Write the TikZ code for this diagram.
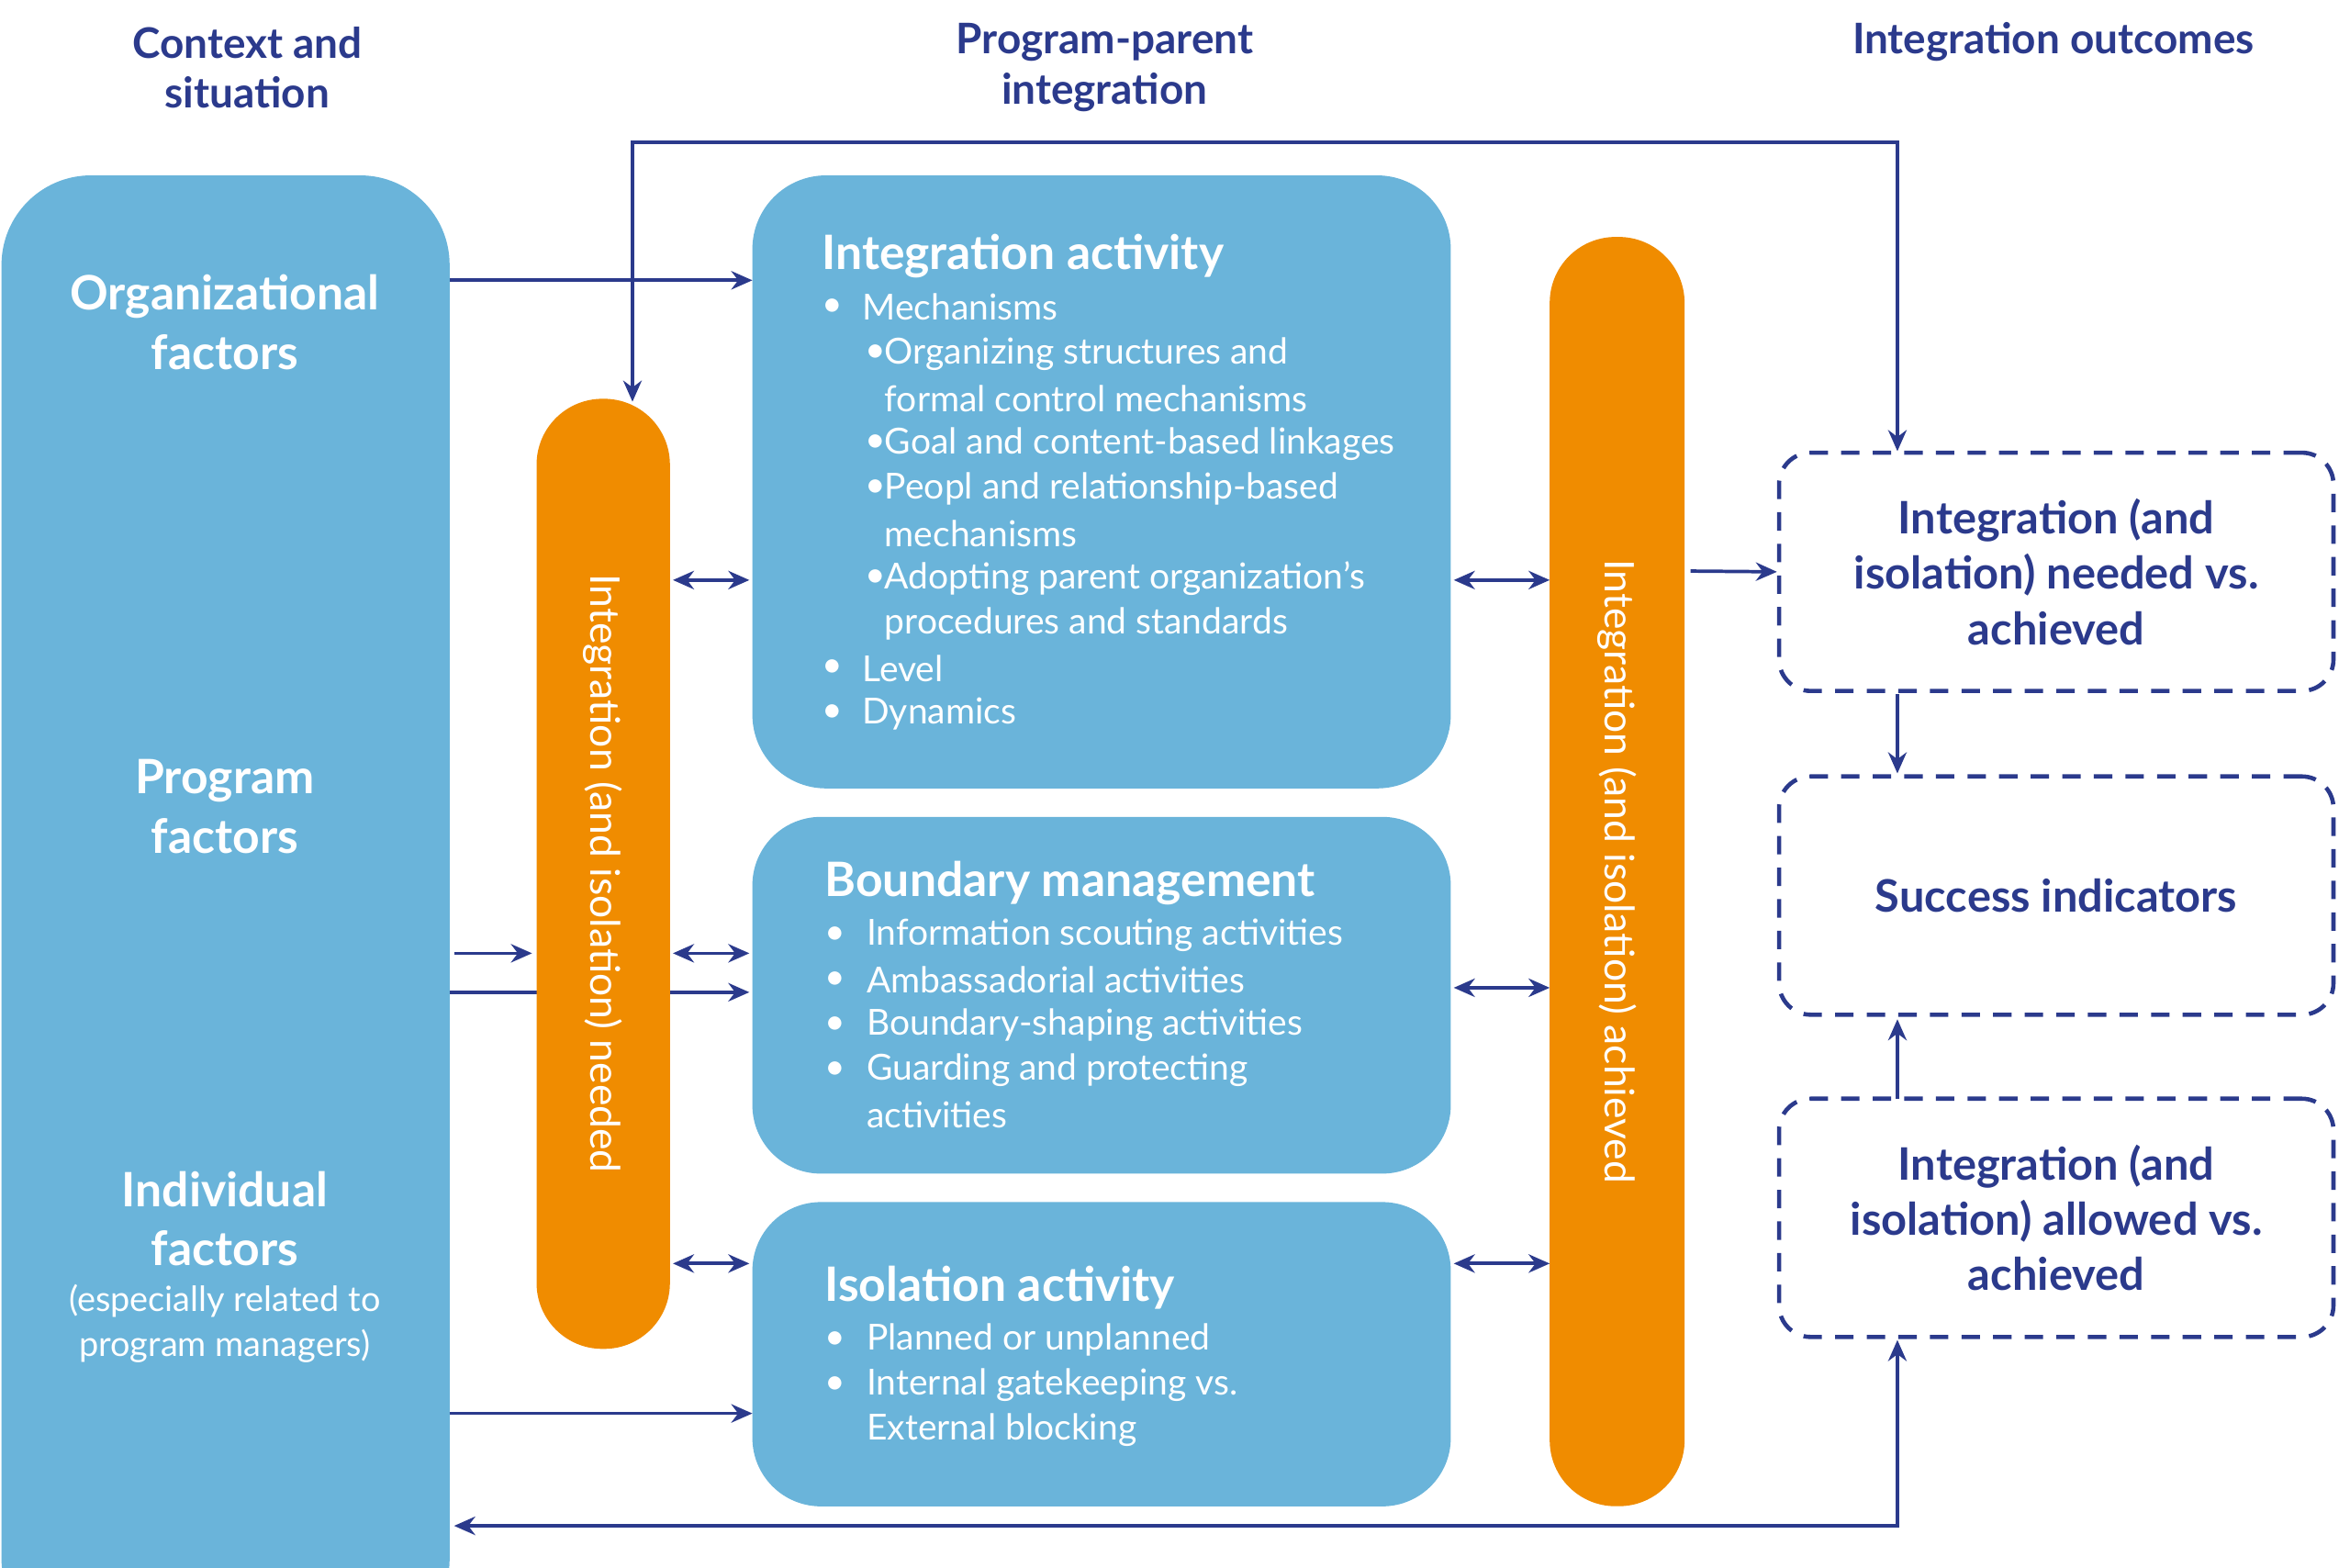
\documentclass[tikz,border=0pt]{standalone}
\usepackage{fontspec}
\setmainfont{Lato}
\usetikzlibrary{arrows.meta}
\definecolor{bbox}{HTML}{6AB4DA}
\definecolor{org}{HTML}{F08C00}
\definecolor{navy}{HTML}{2B3A8C}
\tikzset{
 blue/.style={fill=bbox,draw=none},
 orng/.style={fill=org,draw=none},
 dbox/.style={draw=navy,dashed,line width=1.6pt,dash pattern=on 7pt off 5pt,rounded corners=12pt},
 arr/.style={draw=navy,line width=1.3pt,-{Stealth[length=8pt,width=7pt]}},
 darr/.style={draw=navy,line width=1.3pt,{Stealth[length=8pt,width=7pt]}-{Stealth[length=8pt,width=7pt]}},
 hdr/.style={text=navy,font=\fontsize{16}{19}\selectfont\bfseries,align=center},
 wt/.style={text=white,font=\fontsize{13.6}{17}\selectfont,anchor=west,inner sep=0pt},
 ttl/.style={text=white,font=\fontsize{18}{21}\selectfont\bfseries,anchor=west,inner sep=0pt},
 big/.style={text=white,font=\fontsize{18}{22.5}\selectfont\bfseries,align=center},
 otx/.style={text=white,font=\fontsize{15.5}{18}\selectfont,rotate=-90},
 dtx/.style={text=navy,font=\fontsize{17}{21}\selectfont\bfseries,align=center},
}
\begin{document}
\begin{tikzpicture}[x=0.02cm,y=-0.02cm]
\useasboundingbox (0,0) rectangle (1568,1046);
\begin{scope}
\clip (0,0) rectangle (1568,1046);
\fill[blue,rounded corners=34pt] (1,117) rectangle (300,1100);
\end{scope}
\coordinate (L) at (300,600);
% headers
\node[hdr] (h1) at (165,45) {Context and\\situation};
\node[hdr] (h2) at (737,45) {Program-parent\\integration};
\node[hdr] (h3) at (1370,28) {Integration outcomes};
% left texts
\node[big] (of) at (150,215) {Organizational\\factors};
\node[big] (pf) at (150,538) {Program\\factors};
\node[big] (if) at (150,813) {Individual\\factors};
\node[text=white,font=\fontsize{13.2}{17}\selectfont,align=center] (ifs) at (150,883) {(especially related to\\program managers)};
% line behind orange
\draw[arr] (300,662) -- (500,662);
% boxes
\fill[blue,rounded corners=28pt] (502,117) rectangle (968,526);
\fill[blue,rounded corners=26pt] (502,545) rectangle (968,783);
\fill[blue,rounded corners=26pt] (502,802) rectangle (968,1005);
\node[orng,rounded corners=25pt,minimum width=1.78cm,minimum height=12.68cm] (on) at (402.5,583) {};
\node[orng,rounded corners=25pt,minimum width=1.8cm,minimum height=16.94cm] (oa) at (1079,581.5) {};
\node[otx] at (on) {Integration (and isolation) needed};
\node[otx] at (oa) {Integration (and isolation) achieved};
\node[dbox,minimum width=7.4cm,minimum height=3.18cm] (d1) at (1372,381.5) {};
\node[dbox,minimum width=7.4cm,minimum height=3.18cm] (d2) at (1372,597.5) {};
\node[dbox,minimum width=7.4cm,minimum height=3.18cm] (d3) at (1372,812.5) {};
\node[dtx] at (d1) {Integration (and\\isolation) needed vs.\\achieved};
\node[dtx] at (d2) {Success indicators};
\node[dtx] at (d3) {Integration (and\\isolation) allowed vs.\\achieved};
% IA text
\node[ttl] at (548,171) {Integration activity};
\foreach \y/\t in {205/Mechanisms,446/Level,476/Dynamics}{
 \node[wt] at (548,\y) {•}; \node[wt] at (575,\y) {\t};}
\foreach \y/\t/\b in {236/Organizing structures and/1,266/formal control mechanisms/0,296/Goal and content-based linkages/1,326/Peopl and relationship-based/1,356/mechanisms/0,386/Adopting parent organization’s/1,416/procedures and standards/0}{
 \ifnum\b=1 \node[wt] at (577,\y) {•};\fi \node[wt] at (590,\y) {\t};}
\node[ttl] at (550,589) {Boundary management};
\foreach \y/\t/\b in {624/Information scouting activities/1,654/Ambassadorial activities/1,684/Boundary-shaping activities/1,714/Guarding and protecting/1,744/activities/0}{
 \ifnum\b=1 \node[wt] at (550,\y) {•};\fi \node[wt] at (578,\y) {\t};}
\node[ttl] at (550,859) {Isolation activity};
\foreach \y/\t/\b in {894/Planned or unplanned/1,924/Internal gatekeeping vs./1,954/External blocking/0}{
 \ifnum\b=1 \node[wt] at (550,\y) {•};\fi \node[wt] at (578,\y) {\t};}
% arrows
\draw[arr] (300,187) -- (502,187);
\draw[arr] (300,943) -- (502,943);
\draw[arr] (303,636) -- (355,636);
\draw[darr] (449,387) -- (500,387);
\draw[darr] (449,636) -- (500,636);
\draw[darr] (449,843) -- (500,843);
\draw[darr] (970,387) -- (1034,387);
\draw[darr] (970,659) -- (1034,659);
\draw[darr] (970,843) -- (1034,843);
\draw[arr] (1128,381) -- (d1.west);
\draw[arr] (1266,463) -- (1266,516);
\draw[arr] (1266,733) -- (1266,680);
\draw[darr] (on.east |- 0,266) ++(0,0) (422,268) -- (422,95) -- (1266,95) -- (1266,301);
\draw[darr] (1266,894) -- (1266,1018) -- (303,1018);
\end{tikzpicture}
\end{document}
